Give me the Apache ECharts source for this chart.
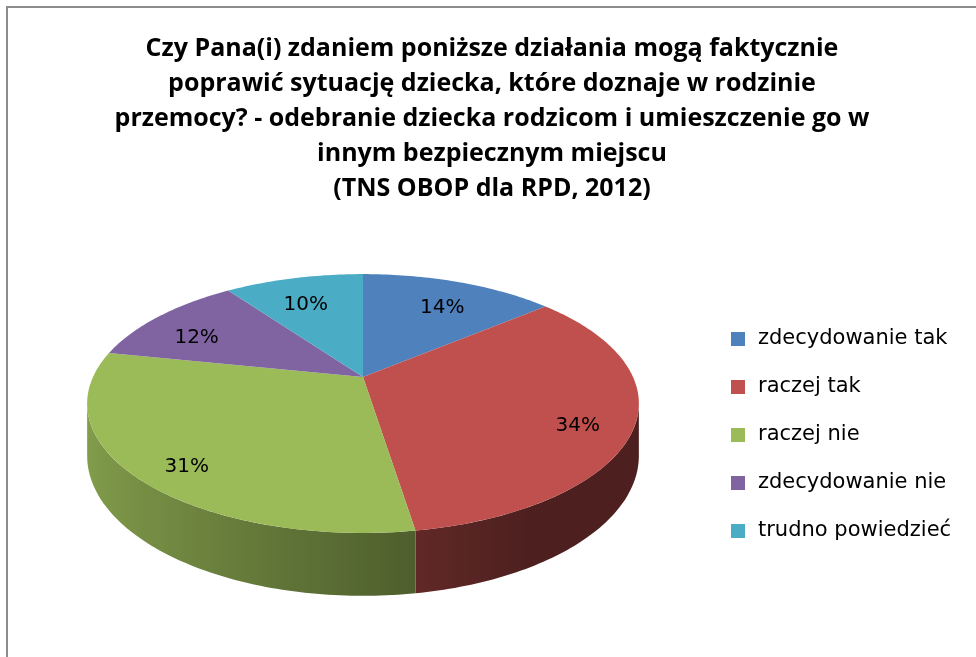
<!DOCTYPE html>
<html>
<head>
<meta charset="utf-8">
<script src="https://cdn.jsdelivr.net/npm/echarts@6/dist/echarts.min.js"></script>
<style>
  html, body { margin: 0; padding: 0; background: #fff; }
  #chart { width: 976px; height: 657px; }
</style>
</head>
<body>
<div id="chart"></div>
<script>
const titleText = 'Czy Pana(i) zdaniem poniższe działania mogą faktycznie\npoprawić sytuację dziecka, które doznaje w rodzinie\nprzemocy? - odebranie dziecka rodzicom i umieszczenie go w\ninnym bezpiecznym miejscu\n(TNS OBOP dla RPD, 2012)'
const categories = ['zdecydowanie tak', 'raczej tak', 'raczej nie', 'zdecydowanie nie', 'trudno powiedzieć']
const values = [14, 34, 31, 12, 10]
const colors = ['#4f81bd', '#c0504d', '#9bbb59', '#8064a2', '#4bacc6']

// 3D pie projection (perspective tilted disk)
const CX = 363, CY = 377, R = 270, K = 124, P = 0.205, DEPTH = 50
const LABEL_R = 0.8, LABEL_DROP = 11
const total = values.reduce((a, b) => a + b, 0)
const rad = d => d * Math.PI / 180

function proj(t, phi, drop) {
  const x = t * Math.sin(phi), z = t * Math.cos(phi)
  const w = 1 + P * z
  return [CX + R * x / w, CY - K * z / w + (drop || 0) / w]
}

function shade(hex, f) {
  const n = parseInt(hex.slice(1), 16)
  const c = [(n >> 16) & 255, (n >> 8) & 255, n & 255].map(v => Math.round(v * f))
  return 'rgb(' + c.join(',') + ')'
}

function sideFactor(phi) {
  return Math.max(0.4, Math.min(0.88, 0.55 - 0.3 * Math.sin(phi)))
}

const visA = Math.acos(-P), visB = 2 * Math.PI - Math.acos(-P)

function renderSlice(i) {
  return function () {
    let before = 0
    for (let k = 0; k < i; k++) before += values[k]
    const a0 = before / total * 2 * Math.PI
    const a1 = (before + values[i]) / total * 2 * Math.PI
    const children = []

    // side wall (only the front, visible part)
    const s0 = Math.max(a0, visA), s1 = Math.min(a1, visB)
    if (s1 > s0) {
      const n = Math.max(4, Math.ceil((s1 - s0) / rad(1)))
      const pts = [], bottom = [], stops = []
      for (let k = 0; k <= n; k++) {
        const phi = s0 + (s1 - s0) * k / n
        pts.push(proj(1, phi))
        bottom.push(proj(1, phi, DEPTH))
      }
      const xs = pts.map(p => p[0])
      const xmin = Math.min(...xs), xmax = Math.max(...xs)
      for (let k = n; k >= 0; k--) {
        const phi = s0 + (s1 - s0) * k / n
        stops.push({ offset: (xs[k] - xmin) / (xmax - xmin || 1), color: shade(colors[i], sideFactor(phi)) })
      }
      stops.sort((p, q) => p.offset - q.offset)
      children.push({
        type: 'polygon',
        shape: { points: pts.concat(bottom.reverse()) },
        style: { fill: new echarts.graphic.LinearGradient(xmin, 0, xmax, 0, stops, true) }
      })
    }

    // top face
    const n = Math.max(4, Math.ceil((a1 - a0) / rad(1)))
    const top = [proj(0, 0)]
    for (let k = 0; k <= n; k++) top.push(proj(1, a0 + (a1 - a0) * k / n))
    children.push({ type: 'polygon', shape: { points: top }, style: { fill: colors[i] } })

    // label
    const lp = proj(LABEL_R, (a0 + a1) / 2, LABEL_DROP)
    children.push({
      type: 'text',
      x: lp[0], y: lp[1],
      style: {
        text: Math.round(values[i] / total * 100) + '%',
        fill: '#000', font: '20px "DejaVu Sans"', align: 'center', verticalAlign: 'middle'
      }
    })
    return { type: 'group', children }
  }
}

const chart = echarts.init(document.getElementById('chart'), null, { renderer: 'canvas' })
chart.setOption({
  animation: false,
  color: colors,
  title: {
    text: titleText,
    left: 492,
    top: 31,
    padding: 0,
    textAlign: 'center',
    textStyle: { fontFamily: 'Open Sans', fontSize: 25, fontWeight: 'bold', color: '#000', lineHeight: 35 }
  },
  legend: {
    orient: 'vertical',
    left: 731,
    top: 327,
    padding: 0,
    itemWidth: 14,
    itemHeight: 14,
    itemGap: 24,
    icon: 'rect',
    data: categories,
    textStyle: { fontFamily: 'DejaVu Sans', fontSize: 21, color: '#000', lineHeight: 24, padding: [0, 0, 0, 8] }
  },
  graphic: [{
    type: 'rect',
    shape: { x: 7, y: 7, width: 1000, height: 700 },
    style: { fill: 'none', stroke: '#8c8c8c', lineWidth: 2 },
    silent: true
  }],
  series: categories.map((name, i) => ({
    type: 'custom',
    name,
    coordinateSystem: 'none',
    data: [[values[i]]],
    renderItem: renderSlice(i)
  }))
})
</script>
</body>
</html>
